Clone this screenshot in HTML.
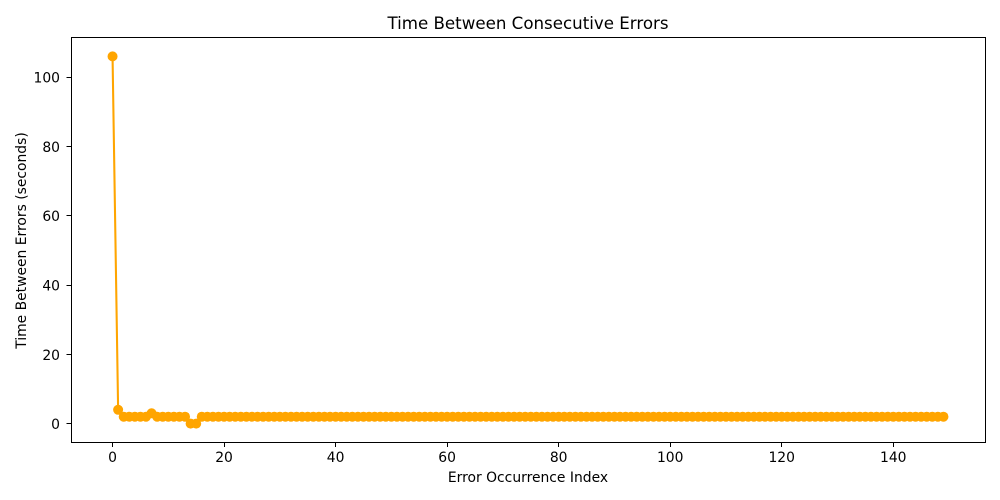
<!DOCTYPE html>
<html lang="en">
<head>
<meta charset="utf-8">
<title>Time Between Consecutive Errors</title>
<style>
html,body{margin:0;padding:0;background:#fff;width:1000px;height:500px;overflow:hidden}
svg{display:block}
text{font-family:"DejaVu Sans",sans-serif;fill:#000}
</style>
</head>
<body>
<svg id="chart" xmlns="http://www.w3.org/2000/svg" width="1000" height="500" viewBox="0 0 1000 500">
  <rect x="0" y="0" width="1000" height="500" fill="#ffffff"/>
  <text x="528" y="29" font-size="16.67" text-anchor="middle">Time Between Consecutive Errors</text>
  <g id="marks"></g>
  <rect x="71.5" y="37.5" width="914" height="405" fill="none" stroke="#000" stroke-width="1"/>
  <g id="x-axis"></g>
  <g id="y-axis"></g>
  <text x="528" y="482" font-size="13.89" text-anchor="middle">Error Occurrence Index</text>
  <text transform="translate(26 240.5) rotate(-90)" font-size="13.89" text-anchor="middle">Time Between Errors (seconds)</text>
</svg>
<script>
const seriesValues = [
  106, 4, 2, 2, 2, 2, 2, 3, 2, 2,
  2, 2, 2, 2, 0, 0, 2, 2, 2, 2,
  2, 2, 2, 2, 2, 2, 2, 2, 2, 2,
  2, 2, 2, 2, 2, 2, 2, 2, 2, 2,
  2, 2, 2, 2, 2, 2, 2, 2, 2, 2,
  2, 2, 2, 2, 2, 2, 2, 2, 2, 2,
  2, 2, 2, 2, 2, 2, 2, 2, 2, 2,
  2, 2, 2, 2, 2, 2, 2, 2, 2, 2,
  2, 2, 2, 2, 2, 2, 2, 2, 2, 2,
  2, 2, 2, 2, 2, 2, 2, 2, 2, 2,
  2, 2, 2, 2, 2, 2, 2, 2, 2, 2,
  2, 2, 2, 2, 2, 2, 2, 2, 2, 2,
  2, 2, 2, 2, 2, 2, 2, 2, 2, 2,
  2, 2, 2, 2, 2, 2, 2, 2, 2, 2,
  2, 2, 2, 2, 2, 2, 2, 2, 2, 2
];
const xTickLabels = [0, 20, 40, 60, 80, 100, 120, 140];
const yTickLabels = [0, 20, 40, 60, 80, 100];

const SVG_NS = 'http://www.w3.org/2000/svg';
const plot = { left: 71, right: 985, top: 38, bottom: 442 };

const xMaxIndex = seriesValues.length - 1;
const xPad = xMaxIndex * 0.05;
const xMin = -xPad;
const xMax = xMaxIndex + xPad;
const yLow = Math.min.apply(null, seriesValues);
const yHigh = Math.max.apply(null, seriesValues);
const yPad = (yHigh - yLow) * 0.05;
const yMin = yLow - yPad;
const yMax = yHigh + yPad;

function xScale(v) {
  return plot.left + (v - xMin) / (xMax - xMin) * (plot.right - plot.left);
}
function yScale(v) {
  return plot.bottom - (v - yMin) / (yMax - yMin) * (plot.bottom - plot.top);
}
function make(tag, attrs) {
  const el = document.createElementNS(SVG_NS, tag);
  Object.keys(attrs).forEach(function (k) { el.setAttribute(k, attrs[k]); });
  return el;
}

const marks = document.getElementById('marks');
const points = seriesValues.map(function (v, i) {
  return xScale(i).toFixed(2) + ',' + yScale(v).toFixed(2);
}).join(' ');
const line = make('polyline', { points: points, fill: 'none', stroke: '#ffa500', 'stroke-width': 2.08, 'stroke-linejoin': 'round' });


marks.appendChild(line);

seriesValues.forEach(function (v, i) {
  const dot = make('circle', { cx: xScale(i).toFixed(2), cy: yScale(v).toFixed(2), r: 5, fill: '#ffa500' });
  
  
  marks.appendChild(dot);
});

const xAxis = document.getElementById('x-axis');
xTickLabels.forEach(function (t) {
  const x = Math.round(xScale(t) - 0.5) + 0.5;
  const tick = make('line', { x1: x, x2: x, y1: plot.bottom + 0.5, y2: plot.bottom + 5, stroke: '#000', 'stroke-width': 1 });
  
  
  xAxis.appendChild(tick);
  const label = make('text', { x: xScale(t), y: 462, 'font-size': 13.89, 'text-anchor': 'middle' });
  
  
  label.textContent = t;
  xAxis.appendChild(label);
});

const yAxis = document.getElementById('y-axis');
yTickLabels.forEach(function (t) {
  const y = Math.round(yScale(t) - 0.5) + 0.5;
  const tick = make('line', { x1: plot.left - 4.5, x2: plot.left + 0.5, y1: y, y2: y, stroke: '#000', 'stroke-width': 1 });
  
  
  yAxis.appendChild(tick);
  const label = make('text', { x: 60, y: yScale(t) + 5.5, 'font-size': 13.89, 'text-anchor': 'end' });
  
  
  label.textContent = t;
  yAxis.appendChild(label);
});
</script>
</body>
</html>
